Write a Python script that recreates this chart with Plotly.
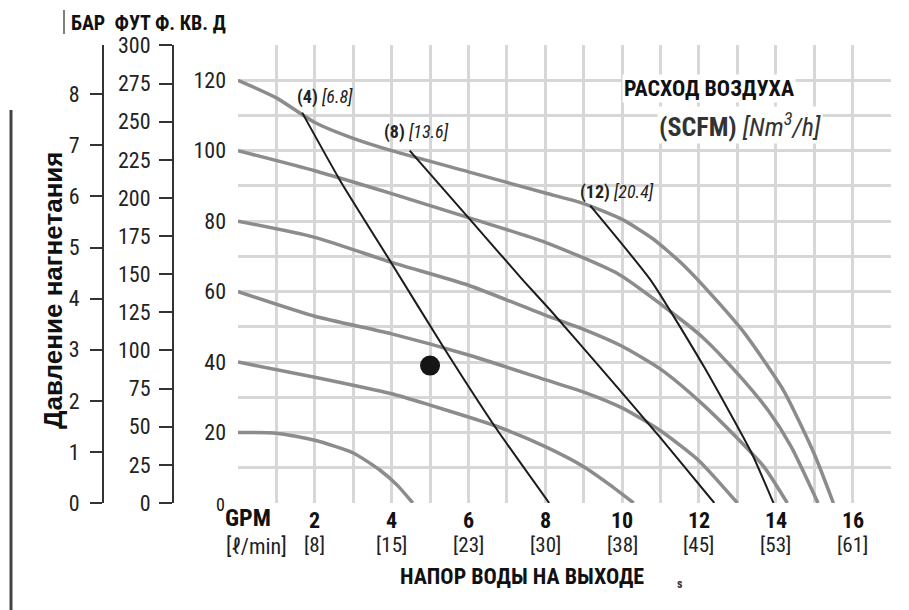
import plotly.graph_objects as go

# ---------------- data ----------------
# pump performance curves (discharge pressure, psi) at given air inlet pressure
c120_x = [0, 1, 2, 3, 4, 6, 8, 9, 10, 10.8, 11.6, 12.5, 13.2, 14.2, 15.0, 15.5]
c120_y = [120, 115, 108, 103.5, 100, 94, 88, 85, 80.5, 75, 67.5, 57, 48, 32, 14, 0]
c100_x = [0, 2, 4, 6, 8, 9.9, 11.3, 12.1, 13, 13.8, 14.4, 15.1]
c100_y = [100, 94.3, 87.8, 81, 74, 65, 54, 47, 36.8, 26.3, 16, 0]
c80_x = [0, 2, 4, 6, 8, 9, 10, 11, 12, 13, 13.7, 14.3]
c80_y = [80, 75.4, 68.3, 61.8, 53.3, 49.3, 44.5, 38, 29, 18.4, 10.2, 0]
c60_x = [0, 2, 4, 6, 8, 9, 10, 11, 12, 13]
c60_y = [60, 53, 48, 42, 35, 31.5, 27, 20.5, 12, 0]
c40_x = [0, 2, 4, 5, 6, 6.8, 8, 9, 9.7, 10.3]
c40_y = [40, 35.7, 31, 27.8, 24.4, 21.5, 16, 10.3, 5, 0]
c20_x = [0, 1, 2, 3, 3.7, 4.15, 4.55]
c20_y = [20, 19.8, 17.8, 14.2, 9.3, 5, 0]

# air consumption lines (SCFM)
a4_x = [1.67, 2.66, 4.0, 5.35, 6.7, 8.1]
a4_y = [110.8, 91.5, 68, 44.2, 21.5, 0]
a8_x = [4.47, 6.06, 7.44, 8.15, 9.45, 11.0, 12.4]
a8_y = [100, 80.2, 63, 54.5, 38.2, 18.5, 0]
a12_x = [9.17, 10.76, 12.14, 13.37, 13.94]
a12_y = [84.4, 63, 38.5, 14.2, 0]

air_labels = [("(4)", "[6.8]"), ("(8)", "[13.6]"), ("(12)", "[20.4]")]
air_label_x = [1.48, 3.76, 8.85]
air_label_y = [115.2, 105.2, 88.2]

dot_x = [5]
dot_y = [39]

gpm_ticks = [2, 4, 6, 8, 10, 12, 14, 16]
lpm_labels = ["[8]", "[15]", "[23]", "[30]", "[38]", "[45]", "[53]", "[61]"]
psi_ticks = list(range(0, 131, 10))
psi_labels = [" " if (v % 20 or v == 0) else str(v) for v in psi_ticks]
ft_ticks = list(range(0, 301, 25))
bar_ticks = list(range(0, 9))

PSI_MAX = 130
FT_PER_PSI = 2.31
PSI_PER_BAR = 14.5038

# ---------------- figure ----------------
W, H = 909, 610
OFF = 8  # page body margin
NARROW = "Liberation Sans Narrow, Arial Narrow, Roboto Condensed, Liberation Sans, sans-serif"
BOLD_SANS = "Liberation Sans, Arial, sans-serif"


def px(x):
    return (x - OFF) / W


def py(y):
    return (H - (y - OFF)) / H


fig = go.Figure()

gray = "#8c8c8c"
for xs, ys in [(c120_x, c120_y), (c100_x, c100_y), (c80_x, c80_y),
               (c60_x, c60_y), (c40_x, c40_y), (c20_x, c20_y)]:
    fig.add_trace(go.Scatter(x=xs, y=ys, mode="lines",
                             line=dict(color=gray, width=3.5, shape="spline", smoothing=0.6),
                             hoverinfo="skip", showlegend=False))

for xs, ys in [(a4_x, a4_y), (a8_x, a8_y), (a12_x, a12_y)]:
    fig.add_trace(go.Scatter(x=xs, y=ys, mode="lines",
                             line=dict(color="#1c1c1c", width=2, shape="spline", smoothing=0.5),
                             hoverinfo="skip", showlegend=False))

fig.add_trace(go.Scatter(x=dot_x, y=dot_y, mode="markers",
                         marker=dict(color="#151515", size=20),
                         hoverinfo="skip", showlegend=False))

# empty traces so that the ft and bar axes are drawn
fig.add_trace(go.Scatter(x=[], y=[], yaxis="y2", hoverinfo="skip", showlegend=False))
fig.add_trace(go.Scatter(x=[], y=[], yaxis="y3", hoverinfo="skip", showlegend=False))

annotations = []
for (bold, ital), ax, ay in zip(air_labels, air_label_x, air_label_y):
    annotations.append(dict(
        x=ax, y=ay, xref="x", yref="y", xanchor="left", yanchor="middle",
        text=f"<b>{bold}</b> <i>{ital}</i>", showarrow=False,
        font=dict(family=NARROW, size=18, color="#222")))

# x tick labels
for v, lab in zip(gpm_ticks, lpm_labels):
    annotations.append(dict(x=v, y=py(520), xref="x", yref="paper",
                            text=f"<b>{v}</b>", showarrow=False,
                            xanchor="center", yanchor="middle",
                            font=dict(family=NARROW, size=22, color="#111")))
    annotations.append(dict(x=v, y=py(545), xref="x", yref="paper",
                            text=lab, showarrow=False,
                            xanchor="center", yanchor="middle",
                            font=dict(family=NARROW, size=21, color="#222")))

annotations += [
    dict(x=px(220), y=py(504), xref="paper", yref="paper", text="0", showarrow=False,
         xanchor="center", yanchor="middle", font=dict(family=NARROW, size=18, color="#111")),
    dict(x=px(248), y=py(518), xref="paper", yref="paper", text="<b>GPM</b>", showarrow=False,
         xanchor="center", yanchor="middle", font=dict(family=NARROW, size=24, color="#111")),
    dict(x=px(256), y=py(546), xref="paper", yref="paper", text="[ℓ/min]", showarrow=False,
         xanchor="center", yanchor="middle", font=dict(family=NARROW, size=22, color="#222")),
    dict(x=px(522), y=py(576), xref="paper", yref="paper", text="<b>НАПОР ВОДЫ НА ВЫХОДЕ</b>",
         showarrow=False, xanchor="center", yanchor="middle",
         font=dict(family=NARROW, size=22, color="#111")),
    dict(x=px(680), y=py(584), xref="paper", yref="paper", text="<b>s</b>",
         showarrow=False, xanchor="center", yanchor="middle",
         font=dict(family=NARROW, size=12, color="#333")),
    dict(x=px(148), y=py(9), xref="paper", yref="paper", text="<b>БАР  ФУТ Ф. КВ. Д</b>",
         showarrow=False, xanchor="center", yanchor="top",
         font=dict(family=NARROW, size=20, color="#111")),
    dict(x=px(53), y=py(290), xref="paper", yref="paper", text="<b>Давление нагнетания</b>",
         showarrow=False, xanchor="center", yanchor="middle", textangle=-90,
         font=dict(family=BOLD_SANS, size=26, color="#111")),
    dict(x=px(709), y=py(88), xref="paper", yref="paper", text="<b>РАСХОД ВОЗДУХА</b>",
         showarrow=False, xanchor="center", yanchor="middle", bgcolor="white",
         font=dict(family=NARROW, size=22, color="#111")),
    dict(x=px(740), y=py(125), xref="paper", yref="paper",
         text="<b>(SCFM)</b> <i>[Nm<sup>3</sup>/h]</i>",
         showarrow=False, xanchor="center", yanchor="middle", bgcolor="white",
         font=dict(family=NARROW, size=26, color="#333")),
]

shapes = [
    dict(type="line", xref="paper", yref="paper", x0=px(11), x1=px(11), y0=py(110), y1=py(618),
         line=dict(color="#444", width=3)),
    dict(type="line", xref="paper", yref="paper", x0=px(64), x1=px(64), y0=py(10), y1=py(34),
         line=dict(color="#555", width=1.5)),
]

ydom = [py(503), py(45)]
fig.update_layout(
    width=W, height=H,
    margin=dict(l=0, r=0, t=0, b=0, pad=0, autoexpand=False),
    paper_bgcolor="white", plot_bgcolor="white",
    showlegend=False,
    xaxis=dict(domain=[px(238), px(891)], range=[0, 17], tickvals=list(range(0, 18)),
               showticklabels=False, ticks="", showgrid=True, gridcolor="#d7d7d7", gridwidth=2.5,
               zeroline=False, showline=False, fixedrange=True, automargin=False),
    yaxis=dict(domain=ydom, range=[0, PSI_MAX], tickvals=psi_ticks, ticktext=psi_labels,
               ticks="", showgrid=True, gridcolor="#d7d7d7", gridwidth=2.5,
               zeroline=False, showline=False, automargin=False,
               tickfont=dict(family=NARROW, size=22, color="#222"), ticklabelstandoff=11),
    yaxis2=dict(overlaying="y", anchor="free", position=px(173), side="left",
                range=[0, PSI_MAX * FT_PER_PSI], tickvals=ft_ticks,
                ticks="outside", ticklen=13, tickwidth=2, tickcolor="#333",
                showline=True, linecolor="#333", linewidth=2, showgrid=False, zeroline=False,
                automargin=False,
                tickfont=dict(family=NARROW, size=22, color="#222"), ticklabelstandoff=4),
    yaxis3=dict(overlaying="y", anchor="free", position=px(103), side="left",
                range=[0, PSI_MAX / PSI_PER_BAR], tickvals=bar_ticks,
                ticks="outside", ticklen=12, tickwidth=2, tickcolor="#333",
                showline=True, linecolor="#333", linewidth=2, showgrid=False, zeroline=False,
                automargin=False,
                tickfont=dict(family=NARROW, size=22, color="#222"), ticklabelstandoff=6),
    annotations=annotations,
    shapes=shapes,
)

fig.write_html("out.html")
